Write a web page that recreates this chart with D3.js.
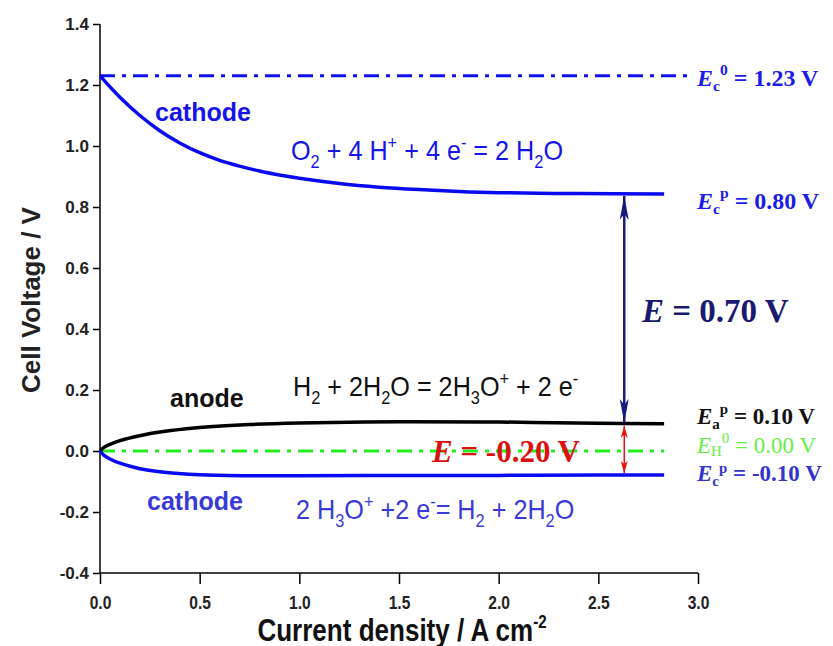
<!DOCTYPE html>
<html><head><meta charset="utf-8">
<script src="https://cdn.jsdelivr.net/npm/d3@7"></script>
<style>body{margin:0;background:#fff}svg{display:block}</style>
</head><body>
<svg id="c" width="833" height="646"></svg>
<script>
// ---- data ----
const xTicks = [0, 0.5, 1.0, 1.5, 2.0, 2.5, 3.0];
const yTicks = [-0.4, -0.2, 0, 0.2, 0.4, 0.6, 0.8, 1.0, 1.2, 1.4];
const cathodeO2J = [0, 0.1, 0.2, 0.3, 0.4, 0.5, 0.6, 0.7, 0.8, 0.9, 1.0, 1.2, 1.4, 1.6, 1.8, 2.0, 2.4, 2.83];
const cathodeO2V = [1.23, 1.16, 1.10, 1.05, 1.01, 0.978, 0.953, 0.934, 0.918, 0.905, 0.894, 0.877, 0.865, 0.857, 0.851, 0.847, 0.844, 0.843];
const anodeJ = [0, 0.02, 0.05, 0.1, 0.2, 0.3, 0.5, 0.75, 1.0, 1.5, 2.0, 2.5, 2.83];
const anodeV = [0, 0.012, 0.022, 0.034, 0.05, 0.062, 0.077, 0.087, 0.092, 0.096, 0.095, 0.091, 0.089];
const cathodeHJ = [0, 0.02, 0.05, 0.1, 0.2, 0.3, 0.5, 0.75, 1.0, 1.5, 2.0, 2.5, 2.83];
const cathodeHV = [0, -0.014, -0.026, -0.04, -0.058, -0.068, -0.078, -0.081, -0.081, -0.08, -0.08, -0.079, -0.079];
const ec0 = 1.23, eh0 = 0.0;
const arrowJ = 2.63;

// ---- layout ----
const svg = d3.select("#c");
const x = d3.scaleLinear().domain([0, 3]).range([100, 698]);
const y = d3.scaleLinear().domain([-0.4, 1.4]).range([573, 24]);

const sans = "'Liberation Sans', Arial, sans-serif";
const serif = "'Liberation Serif', 'Times New Roman', serif";
const fmt = v => d3.format(".1f")(v).replace("\u2212", "-");

// axes
const gx = svg.append("g").attr("transform", `translate(0,${y(-0.4)})`);
gx.call(d3.axisBottom(x).tickValues(d3.range(0, 3.01, 0.25)).tickSize(6).tickFormat(""));
gx.call(d3.axisBottom(x).tickValues(xTicks).tickSize(11).tickFormat(fmt).tickPadding(12));
gx.selectAll("path.domain").attr("stroke-width", 1.5).attr("d", `M${x(0)},0H${x(3)}`);
gx.selectAll("line").attr("stroke-width", 1.5);
gx.selectAll("text").attr("font-family", sans).attr("font-weight", "bold").attr("font-size", 19)
  .attr("fill", "#222").attr("transform", "scale(0.82,1)");

const gy = svg.append("g").attr("transform", `translate(${x(0)},0)`);
gy.call(d3.axisLeft(y).tickValues(d3.range(-0.4, 1.41, 0.1)).tickSize(4).tickFormat(""));
gy.call(d3.axisLeft(y).tickValues(yTicks).tickSize(7).tickFormat(fmt).tickPadding(4));
gy.selectAll("path.domain").attr("stroke-width", 1.5).attr("d", `M0,${y(1.4)}V${y(-0.4)}`);
gy.selectAll("line").attr("stroke-width", 1.5);
gy.selectAll("text").attr("font-family", sans).attr("font-weight", "bold").attr("font-size", 17).attr("fill", "#222");

// axis titles
svg.append("text").attr("transform", "translate(40,300) rotate(-90)").attr("text-anchor", "middle")
  .attr("font-family", sans).attr("font-weight", "bold").attr("font-size", 26).attr("fill", "#222")
  .text("Cell Voltage / V");
const xt = svg.append("text").attr("transform", "translate(402,641) scale(0.84,1)").attr("text-anchor", "middle")
  .attr("font-family", sans).attr("font-weight", "bold").attr("font-size", 31).attr("fill", "#111");
xt.append("tspan").text("Current density / A cm");
xt.append("tspan").attr("dy", -13).attr("font-size", 18).text("-2");

// reference lines
svg.append("line").attr("x1", x(0)).attr("x2", x(2.97)).attr("y1", y(ec0)).attr("y2", y(ec0))
  .attr("stroke", "#1010ee").attr("stroke-width", 3).attr("stroke-dasharray", "15,7,4,7");
svg.append("line").attr("x1", x(0)).attr("x2", x(2.83)).attr("y1", y(eh0)).attr("y2", y(eh0))
  .attr("stroke", "#22ee22").attr("stroke-width", 3).attr("stroke-dasharray", "15,7,4,7");

// curves
const line = d3.line().x(d => x(d[0])).y(d => y(d[1])).curve(d3.curveCatmullRom.alpha(0.5));
function curve(js, vs, color) {
  svg.append("path").datum(js.map((j, i) => [j, vs[i]])).attr("d", line)
    .attr("fill", "none").attr("stroke", color).attr("stroke-width", 3.5);
}
curve(cathodeO2J, cathodeO2V, "#0a0af0");
curve(anodeJ, anodeV, "#000");
curve(cathodeHJ, cathodeHV, "#0a0af0");

// arrows
const defs = svg.append("defs");
function marker(id, color, w, h) {
  const m = defs.append("marker").attr("id", id).attr("viewBox", `0 0 ${w} ${h}`)
    .attr("refX", w).attr("refY", h / 2).attr("markerWidth", w).attr("markerHeight", h)
    .attr("markerUnits", "userSpaceOnUse").attr("orient", "auto-start-reverse");
  m.append("path").attr("d", `M0,0L${w},${h / 2}L0,${h}L${w * 0.25},${h / 2}Z`).attr("fill", color);
}
marker("ab", "#1a1a80", 24, 9);
marker("ar", "#ee1111", 12, 7);
svg.append("line").attr("x1", x(arrowJ)).attr("x2", x(arrowJ))
  .attr("y1", y(cathodeO2V[cathodeO2V.length - 1]) + 2).attr("y2", y(anodeV[anodeV.length - 1]) - 1)
  .attr("stroke", "#1a1a80").attr("stroke-width", 2.5)
  .attr("marker-start", "url(#ab)").attr("marker-end", "url(#ab)");
svg.append("line").attr("x1", x(arrowJ)).attr("x2", x(arrowJ))
  .attr("y1", y(anodeV[anodeV.length - 1]) + 2).attr("y2", y(cathodeHV[cathodeHV.length - 1]) - 2)
  .attr("stroke", "#ee1111").attr("stroke-width", 1.5)
  .attr("marker-start", "url(#ar)").attr("marker-end", "url(#ar)");

// rich text helper: parts = [[text, mode]] mode: "", "sub", "sup", "i"
function rich(xp, yp, parts, opts) {
  const k = opts.sx || 1;
  const t = svg.append("text").attr("transform", `translate(${xp},${yp}) scale(${k},1)`)
    .attr("font-family", opts.font).attr("font-size", opts.size).attr("fill", opts.color)
    .attr("font-weight", opts.weight || "normal").attr("text-anchor", opts.anchor || "start");
  let shift = 0;
  parts.forEach(([s, m]) => {
    const ts = t.append("tspan").text(s);
    let target = 0;
    if (m === "sub") target = opts.size * (opts.subK || 0.3);
    else if (m === "sup") target = -opts.size * (opts.supK || 0.4);
    if (m === "sub" || m === "sup") ts.attr("font-size", opts.size * 0.65);
    if (m === "i") ts.attr("font-style", "italic");
    ts.attr("dy", target - shift);
    shift = target;
  });
  return t;
}

// labels
const lab = (s, xp, yp, color) => svg.append("text").attr("x", xp).attr("y", yp)
  .attr("font-family", sans).attr("font-weight", "bold").attr("font-size", 25).attr("fill", color).text(s);
lab("cathode", 155, 121, "#1515e8");
lab("anode", 170, 407, "#111");
lab("cathode", 147, 510, "#3a3ad8");

const eq = {font: sans, size: 28, weight: "normal", sx: 0.9};
rich(291, 160, [["O", ""], ["2", "sub"], [" + 4 H", ""], ["+", "sup"], [" + 4 e", ""], ["-", "sup"], [" = 2 H", ""], ["2", "sub"], ["O", ""]], {...eq, color: "#1515e8"});
rich(293, 396, [["H", ""], ["2", "sub"], [" + 2H", ""], ["2", "sub"], ["O = 2H", ""], ["3", "sub"], ["O", ""], ["+", "sup"], [" + 2 e", ""], ["-", "sup"]], {...eq, color: "#111"});
rich(296, 519, [["2 H", ""], ["3", "sub"], ["O", ""], ["+", "sup"], [" +2 e", ""], ["-", "sup"], ["= H", ""], ["2", "sub"], [" + 2H", ""], ["2", "sub"], ["O", ""]], {...eq, color: "#3a3ad8"});

const rs = {font: serif, size: 24, weight: "bold", supK: 0.45, subK: 0.22};
rich(697, 86, [["E", "i"], ["c", "sub"], ["0", "sup"], [" = 1.23 V", ""]], {...rs, color: "#1c1ce6"});
rich(697, 209, [["E", "i"], ["c", "sub"], ["p", "sup"], [" = 0.80 V", ""]], {...rs, color: "#1c1ce6"});
rich(697, 424, [["E", "i"], ["a", "sub"], ["p", "sup"], [" = 0.10 V", ""]], {...rs, size: 23, color: "#111"});
rich(697, 453, [["E", "i"], ["H", "sub"], ["0", "sup"], [" = 0.00 V", ""]], {...rs, size: 23, subK: 0.12, weight: "normal", color: "#66ee44"});
rich(697, 481, [["E", "i"], ["c", "sub"], ["p", "sup"], [" = -0.10 V", ""]], {...rs, size: 23, supK: 0.33, color: "#3535cc"});

rich(642, 322, [["E", "i"], [" = 0.70 V", ""]], {font: serif, size: 33, weight: "bold", color: "#1a1a70"});
rich(432, 462, [["E", "i"], [" = -0.20 V", ""]], {font: serif, size: 31, weight: "bold", color: "#dd1111"});
</script>
</body></html>
